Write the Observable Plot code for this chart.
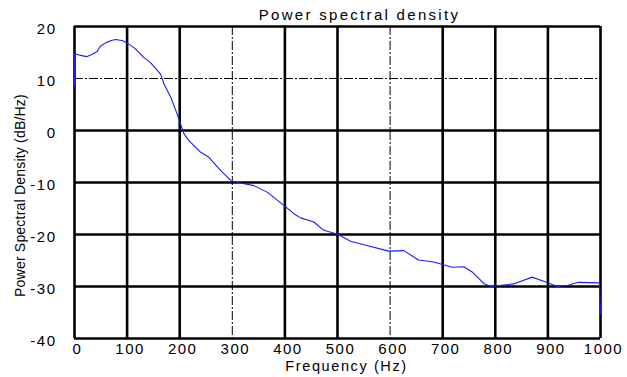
<!DOCTYPE html>
<html>
<head>
<meta charset="utf-8">
<script src="https://cdn.jsdelivr.net/npm/d3@7"></script>
<script src="https://cdn.jsdelivr.net/npm/@observablehq/plot@0.6"></script>
<style>
  html, body { margin: 0; padding: 0; background: white; }
</style>
</head>
<body>
<div id="chart"></div>
<script>
const freq = [0, 0, 5, 14, 23, 33, 43, 49, 60, 70, 78, 90, 99, 115, 131, 145, 152, 164, 170, 183, 195, 198, 208, 217, 240, 255, 278, 298, 316, 341, 367, 398, 417, 430, 443, 455, 474, 499, 525, 556, 597, 626, 654, 683, 718, 740, 756, 778, 791, 835, 870, 892, 918, 937, 958, 998, 1000];
const psd  = [8.5, 14.7, 14.6, 14.4, 14.2, 14.6, 15.2, 16.2, 16.9, 17.3, 17.5, 17.3, 16.9, 15.8, 14.1, 13.0, 12.2, 10.8, 9.0, 6.4, 3.2, 2.3, -0.6, -1.9, -4.2, -5.1, -7.7, -9.7, -10.1, -10.6, -11.9, -14.4, -16.0, -16.8, -17.2, -17.6, -19.2, -19.9, -21.3, -22.1, -23.2, -23.1, -24.9, -25.3, -26.3, -26.2, -27.2, -29.4, -30.0, -29.5, -28.2, -29.0, -30.0, -29.8, -29.2, -29.3, -35.2];

const xTicks = [0, 100, 200, 300, 400, 500, 600, 700, 800, 900, 1000];
const yTicks = [20, 10, 0, -10, -20, -30, -40];
const xGridSolid = [0, 100, 200, 400, 500, 700, 800, 900, 1000];
const xGridDashed = [300, 600];
const yGridSolid = [20, 0, -10, -20, -30, -40];
const yGridDashed = [10];

const titleText = "Power spectral density";
const xLabelText = "Frequency (Hz)";
const yLabelText = "Power Spectral Density (dB/Hz)";

const data = freq.map((f, i) => ({f, db: psd[i]}));

const svg = Plot.plot({
  width: 627,
  height: 377,
  marginLeft: 74,
  marginRight: 27,
  marginTop: 26,
  marginBottom: 39,
  style: {fontFamily: "'Liberation Sans', Arial, sans-serif", fontSize: "15px", background: "white", color: "black"},
  x: {domain: [0, 1000]},
  y: {domain: [-40, 20]},
  marks: [
    Plot.ruleX(xGridDashed, {stroke: "black", strokeWidth: 1, strokeDasharray: "9,2,2,2"}),
    Plot.ruleY(yGridDashed, {stroke: "black", strokeWidth: 1, strokeDasharray: "9,2,2,2"}),
    Plot.ruleX(xGridSolid, {stroke: "black", strokeWidth: 2.6}),
    Plot.ruleY(yGridSolid, {stroke: "black", strokeWidth: 2.6}),
    Plot.line(data, {x: "f", y: "db", stroke: "#1a1aff", strokeWidth: 1.1}),
    Plot.axisX({ticks: xTicks, tickFormat: d => String(d), tickSize: 0, tickPadding: 5, dx: 3, label: null, fontSize: 15}),
    Plot.axisY({ticks: yTicks, tickFormat: d => String(d), tickSize: 0, tickPadding: 18, dy: 3, label: null, fontSize: 15}),
    Plot.text([titleText], {frameAnchor: "top", dx: 22, dy: -7, lineAnchor: "bottom", textAnchor: "middle", fontSize: 15, fill: "black"}),
    Plot.text([xLabelText], {frameAnchor: "bottom", dx: 9, dy: 32, lineAnchor: "bottom", textAnchor: "middle", fontSize: 14.5, fill: "black"}),
    Plot.text([yLabelText], {frameAnchor: "left", dx: -50, dy: 13, rotate: -90, lineAnchor: "bottom", textAnchor: "middle", fontSize: 14, fill: "black"})
  ]
});

svg.querySelectorAll("text").forEach(t => {
  const s = t.textContent;
  if (s === titleText) t.setAttribute("letter-spacing", "2.3");
  else if (s === xLabelText) t.setAttribute("letter-spacing", "1.6");
  else if (s === yLabelText) t.setAttribute("letter-spacing", "0.2");
  else t.setAttribute("letter-spacing", "1.5");
});

document.getElementById("chart").appendChild(svg);
</script>
</body>
</html>
